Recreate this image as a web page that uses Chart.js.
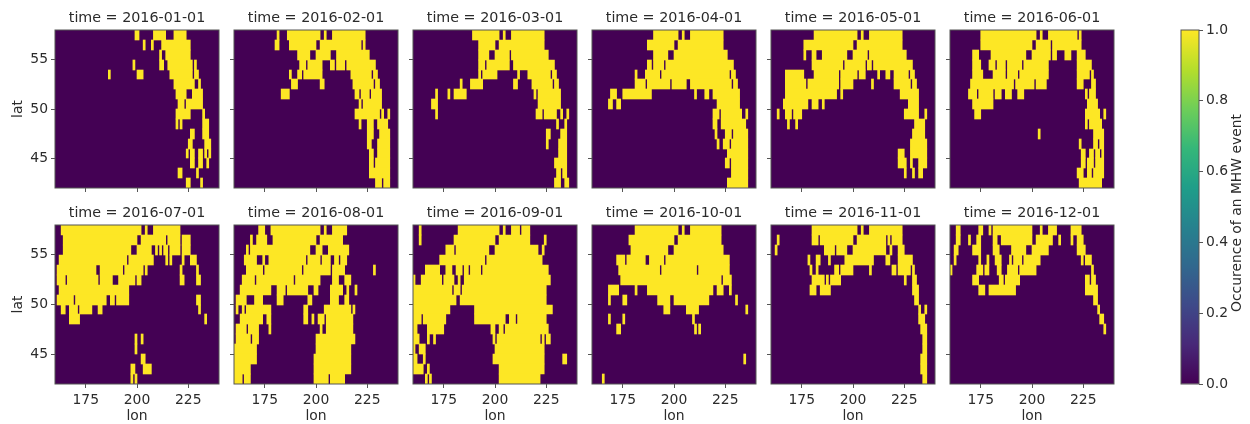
<!DOCTYPE html>
<html>
<head>
<meta charset="utf-8">
<script src="https://cdn.jsdelivr.net/npm/chart.js@4"></script>
<style>
    html, body { margin: 0; padding: 0; background: #fff; width: 1250px; height: 424px; overflow: hidden; }
    canvas { position: absolute; }
</style>
</head>
<body>
<script>
// one entry per grid row, north to south; each row is a flat list of lon start/end pairs
const lats = [57.5, 56.5, 55.5, 54.5, 53.5, 52.5, 51.5, 50.5, 49.5, 48.5, 47.5, 46.5, 45.5, 44.5, 43.5, 42.5];
const lonTicks = [175, 200, 225];
const latTicks = [45, 50, 55];
const barTicks = [0, 0.2, 0.4, 0.6, 0.8, 1];
const months = ['2016-01-01', '2016-02-01', '2016-03-01', '2016-04-01', '2016-05-01', '2016-06-01',
    '2016-07-01', '2016-08-01', '2016-09-01', '2016-10-01', '2016-11-01', '2016-12-01'];
const viridis = ['#440154', '#482878', '#3e4989', '#31688e', '#26828e', '#1f9e89', '#35b779', '#6ece58', '#b5de2b', '#fde725'];

const jan = [
    [199,201, 208,214, 218,224], [203,204, 207,208, 212,226], [211,212, 214,226], [198,199, 211,213, 215,227, 228,229],
    [186,187, 200,203, 216,227, 228,230], [218,228, 230,231], [219,224, 227,232], [220,223, 224,232],
    [219,226, 232,233], [219,220, 221,222, 232,235], [226,228, 232,235], [225,227, 233,236],
    [224,225, 226,228, 230,232, 233,234, 235,236], [226,228, 230,232, 234,235], [220,222, 229,230], [224,226, 231,232]
];
const feb = [
    [181,182, 186,202, 204,205, 208,224], [180,182, 187,200, 202,222, 223,224], [191,197, 200,207, 210,226], [192,195, 196,203, 207,209, 210,214, 215,229],
    [187,188, 191,193, 194,203, 217,227, 228,230], [188,191, 202,204, 218,228, 229,231], [183,187, 219,221, 222,226, 227,232], [221,222, 223,232],
    [219,231, 232,233, 235,236], [221,222, 225,228, 230,235], [225,228, 231,236], [225,227, 230,236],
    [226,228, 230,236], [226,228, 229,236], [226,236], [229,232, 233,236]
];
const mar = [
    [189,202, 204,205, 208,224], [192,200, 202,224], [192,197, 200,207, 208,226], [192,195, 196,207, 209,229],
    [192,193, 194,201, 211,212, 216,227, 228,230], [183,184, 188,194, 209,211, 218,228, 229,231], [171,172, 177,178, 180,186, 219,220, 221,232], [169,172, 221,232],
    [171,172, 220,223, 224,230, 232,233, 235,236], [230,231, 234,235], [225,227, 232,235], [225,226, 231,235],
    [231,235], [229,235], [230,232, 233,235], [229,232, 234,236]
];
const apr = [
    [190,202, 204,205, 208,224], [187,200, 202,224], [190,197, 200,226], [187,189, 190,195, 196,229],
    [181,182, 186,193, 194,227, 228,230], [181,186, 187,198, 199,206, 208,228, 229,231], [169,172, 175,189, 210,211, 215,217, 219,232], [168,170, 172,174, 221,232],
    [219,222, 223,233, 235,236], [219,221, 223,235], [220,221, 225,228, 229,236], [221,222, 224,227, 228,236],
    [226,236], [225,227, 228,236], [228,236], [226,236]
];
const may = [
    [181,202, 204,205, 208,224], [176,200, 202,224], [176,177, 180,182, 185,197, 200,207, 208,226], [180,195, 196,206, 207,209, 210,229],
    [167,176, 181,193, 194,202, 203,206, 212,213, 216,218, 220,227, 228,230], [167,177, 178,193, 194,200, 209,210, 220,228, 229,231], [167,192, 194,195, 223,232], [166,178, 180,183, 185,186, 227,232],
    [163,164, 167,170, 171,175, 225,232, 235,236], [168,169, 172,173, 230,235], [229,235], [228,236],
    [222,225, 228,236], [222,226, 228,229, 232,236], [225,226, 229,230, 232,234], []
];
const jun = [
    [175,202, 204,205, 208,222, 223,224], [175,200, 202,209, 210,224], [171,174, 180,197, 200,209, 210,212, 216,219, 222,226], [171,175, 179,182, 183,187, 188,195, 196,208, 222,229],
    [171,176, 181,187, 188,193, 194,208, 222,228, 229,230], [170,191, 192,201, 202,207, 222,225, 229,231], [169,173, 174,181, 182,185, 187,190, 193,196, 226,227, 228,231], [171,181, 227,232],
    [172,175, 226,233, 235,236], [226,227, 228,234], [203,204, 230,235], [223,224, 230,232, 233,235],
    [224,226, 228,230, 231,233, 234,235], [224,226, 227,230, 231,235], [222,225, 227,229, 230,235], [223,234]
];
const jul = [
    [163,202, 204,205, 208,221], [164,200, 202,214, 215,221, 222,226], [164,197, 200,207, 209,210, 211,212, 213,215, 216,221, 222,226], [162,195, 196,208, 214,215, 216,217, 222,223, 226,229],
    [161,180, 182,193, 194,203, 204,205, 221,222, 229,230], [161,165, 166,181, 182,188, 191,199, 200,202, 221,223, 229,231], [162,196], [161,169, 170,185, 187,189, 190,196, 229,231],
    [163,165, 167,171, 172,178, 181,183, 230,231], [167,172, 233,234], [], [199,200, 202,203],
    [199,200], [202,204], [197,199, 203,207], [197,198, 199,200]
];
const aug = [
    [172,175, 178,202, 204,205, 208,215], [168,169, 171,176, 179,200, 202,213], [166,167, 168,197, 200,203, 206,216], [165,171, 174,175, 177,195, 196,202, 203,207, 209,211, 212,215],
    [166,174, 175,193, 194,207, 208,214, 228,229], [164,170, 171,189, 190,202, 208,211, 214,217], [163,178, 181,185, 186,196, 199,201, 207,213, 215,216, 219,220], [161,166, 170,174, 181,184, 196,198, 207,211, 214,216],
    [161,162, 164,165, 166,178, 194,196, 204,217, 218,219], [163,174, 176,178, 194,196, 198,199, 201,204, 205,218], [161,166, 167,172, 177,178, 202,203, 205,218], [161,168, 169,172, 200,219],
    [160,171, 200,217], [160,171, 199,217], [160,168, 199,217], [160,164, 165,168, 199,206, 207,214]
];
const sep = [
    [163,164, 182,202, 204,205, 208,212, 213,217], [163,164, 180,200, 202,217, 224,225], [176,180, 181,197, 200,221, 223,224], [173,195, 196,223],
    [166,173, 176,179, 181,184, 185,187, 188,193, 194,226], [160,161, 164,174, 175,180, 182,183, 185,227], [160,179, 180,183, 184,225], [160,181, 183,225],
    [160,178, 190,228], [160,164, 165,176, 190,205, 207,210, 211,225], [160,162, 167,175, 198,200, 202,204, 205,226], [160,163, 167,168, 170,171, 199,200, 201,222, 223,224, 225,227],
    [160,161, 163,166, 200,224], [160,162, 165,166, 199,224, 233,235], [160,165, 167,168, 202,224], [166,167, 168,169, 202,222]
];
const oct = [
    [181,202, 204,205, 208,223], [178,200, 202,223], [179,197, 200,224], [172,176, 177,186, 188,195, 196,227],
    [173,193, 194,211, 212,227], [174,223, 224,228], [168,173, 181,182, 187,219, 221,224, 227,228], [168,169, 175,177, 192,198, 200,217, 230,231],
    [195,198, 206,212, 235,236], [168,169, 175,176, 209,210], [172,174, 210,211, 212,213], [],
    [], [234,235], [], [165,166]
];
const nov = [
    [180,202, 204,205, 208,224], [163,164, 180,183, 184,200, 202,216, 217,218, 219,224], [162,163, 186,191, 192,197, 200,216, 218,219, 222,225], [178,179, 182,184, 188,189, 196,210, 216,218, 222,229],
    [179,180, 182,183, 191,193, 194,200, 208,209, 219,221, 222,228, 229,230], [180,186, 187,188, 189,194, 225,226, 229,231], [179,182, 184,189, 229,232], [230,232],
    [232,233, 235,236], [232,235], [233,236], [234,236],
    [234,236], [233,236], [233,236], [234,236]
];
const dec = [
    [163,165, 174,176, 179,180, 181,200, 204,205, 208,212, 219,224], [163,165, 169,170, 173,175, 181,183, 185,200, 202,210, 213,214, 219,220, 222,225], [162,164, 171,175, 181,184, 190,197, 200,208, 222,226], [162,163, 174,175, 178,179, 182,185, 189,190, 191,195, 196,204, 224,225, 226,229],
    [160,161, 173,176, 177,179, 183,185, 188,193, 194,202, 229,230], [171,174, 184,186, 187,194, 226,228, 229,231], [174,177, 179,192, 226,232], [230,232],
    [232,233], [233,235], [235,236], [],
    [], [], [], []
];
const panels = [jan, feb, mar, apr, may, jun, jul, aug, sep, oct, nov, dec];

const colLefts = [55, 234, 413, 592, 771, 950];
const rowTops = [30, 225];
const rowHeights = [158, 159];
const panelWidth = 164;
const textColor = '#2b2b2b';
const lineColor = '#555555';
const tickFont = { family: 'DejaVu Sans', size: 13.9 };
const labelFont = { family: 'DejaVu Sans', size: 13.9 };
const titleFont = { family: 'DejaVu Sans', size: 14.3, weight: 'normal', lineHeight: '16px' };

// background and frame of the axes
const framePlugin = {
    id: 'frame',
    // round the row edges to whole pixels, otherwise seams show between rows
    afterDatasetsUpdate(chart) {
        if (chart.options.indexAxis !== 'y') return;
        chart.getDatasetMeta(0).data.forEach(bar => {
            const top = Math.round(bar.y - bar.height / 2);
            const bottom = Math.round(bar.y + bar.height / 2);
            bar.y = (top + bottom) / 2;
            bar.height = bottom - top;
        });
    },
    beforeDatasetsDraw(chart) {
        const a = chart.chartArea;
        if (chart.options.indexAxis === 'y') {
            chart.ctx.fillStyle = viridis[0];
            chart.ctx.fillRect(a.left, a.top, a.width, a.height);
        }
    },
    afterDraw(chart) {
        const a = chart.chartArea;
        chart.ctx.strokeStyle = lineColor;
        chart.ctx.lineWidth = 1;
        chart.ctx.strokeRect(a.left, a.top, a.width, a.height);
    }
};

// colourbar label reads upwards, which a right hand axis title can't do
const barLabelPlugin = {
    id: 'barLabel',
    afterDraw(chart) {
        const ctx = chart.ctx;
        ctx.save();
        ctx.translate(66, 195);
        ctx.rotate(-Math.PI / 2);
        ctx.font = '13.9px "DejaVu Sans"';
        ctx.fillStyle = textColor;
        ctx.textAlign = 'center';
        ctx.textBaseline = 'middle';
        ctx.fillText('Occurence of an MHW event', 0, 0);
        ctx.restore();
    }
};

function addCanvas(left, top, width, height) {
    const canvas = document.createElement('canvas');
    canvas.width = width;
    canvas.height = height;
    canvas.style.left = left + 'px';
    canvas.style.top = top + 'px';
    document.body.appendChild(canvas);
    return canvas;
}

function toBars(rows) {
    const bars = [];
    rows.forEach((row, r) => {
        for (let i = 0; i < row.length; i += 2) {
            bars.push({ y: lats[r], x: [row[i], row[i + 1]] });
        }
    });
    return bars;
}

panels.forEach((rows, p) => {
    const col = p % 6;
    const row = Math.floor(p / 6);
    const leftSide = col === 0 ? 55 : 10;
    const bottomSide = row === 1 ? 41 : 12;
    const canvas = addCanvas(colLefts[col] - leftSide, rowTops[row] - 20, leftSide + panelWidth + 8, 20 + rowHeights[row] + bottomSide);

    new Chart(canvas, {
        type: 'bar',
        data: {
            datasets: [{ data: toBars(rows), backgroundColor: viridis[9], borderWidth: 0, barPercentage: 1, categoryPercentage: 1 }]
        },
        options: {
            indexAxis: 'y',
            responsive: false,
            animation: false,
            layout: { autoPadding: false, padding: { right: 8 } },
            plugins: {
                legend: { display: false },
                tooltip: { enabled: false },
                title: {
                    display: true,
                    fullSize: false,
                    text: 'time = ' + months[p],
                    color: textColor,
                    font: titleFont,
                    padding: { top: 0, bottom: 4 }
                }
            },
            scales: {
                x: {
                    type: 'linear',
                    min: 160,
                    max: 240,
                    afterBuildTicks: scale => { scale.ticks = lonTicks.map(v => ({ value: v })); },
                    afterFit: scale => { scale.height = bottomSide; },
                    grid: { drawOnChartArea: false, tickLength: 4, color: lineColor },
                    border: { display: false },
                    ticks: {
                        autoSkip: false,
                        maxRotation: 0,
                        padding: 4,
                        color: textColor,
                        font: tickFont,
                        callback: v => (row === 1 ? v : '')
                    },
                    title: { display: row === 1, text: 'lon', color: textColor, font: labelFont, padding: 0 }
                },
                y: {
                    type: 'linear',
                    min: 42,
                    max: 58,
                    offset: false,
                    afterBuildTicks: scale => { scale.ticks = latTicks.map(v => ({ value: v })); },
                    afterFit: scale => { scale.width = leftSide; },
                    grid: { offset: false, drawOnChartArea: false, tickLength: 4, color: lineColor },
                    border: { display: false },
                    ticks: {
                        autoSkip: false,
                        padding: 3,
                        color: textColor,
                        font: tickFont,
                        callback: v => (col === 0 ? v : '')
                    },
                    title: { display: col === 0, text: 'lat', color: textColor, font: labelFont, padding: { top: 10, bottom: 0 } }
                }
            }
        },
        plugins: [framePlugin]
    });
});

// colourbar
new Chart(addCanvas(1171, 18, 79, 378), {
    type: 'bar',
    data: {
        labels: [''],
        datasets: [{
            data: [[0, 1]],
            borderWidth: 0,
            barPercentage: 1,
            categoryPercentage: 1,
            backgroundColor: ctx => {
                const a = ctx.chart.chartArea;
                if (!a) return viridis[0];
                const g = ctx.chart.ctx.createLinearGradient(0, a.bottom, 0, a.top);
                viridis.forEach((c, i) => g.addColorStop(i / (viridis.length - 1), c));
                return g;
            }
        }]
    },
    options: {
        responsive: false,
        animation: false,
        layout: { autoPadding: false, padding: { left: 10, top: 12, bottom: 12 } },
        plugins: { legend: { display: false }, tooltip: { enabled: false } },
        scales: {
            x: { display: false },
            y: {
                position: 'right',
                type: 'linear',
                min: 0,
                max: 1,
                afterBuildTicks: scale => { scale.ticks = barTicks.map(v => ({ value: v })); },
                afterFit: scale => { scale.width = 51; },
                grid: { drawOnChartArea: false, tickLength: 4, color: lineColor },
                border: { display: false },
                ticks: { autoSkip: false, padding: 3, color: textColor, font: tickFont, callback: v => v.toFixed(1) }
            }
        }
    },
    plugins: [framePlugin, barLabelPlugin]
});
</script>
</body>
</html>
